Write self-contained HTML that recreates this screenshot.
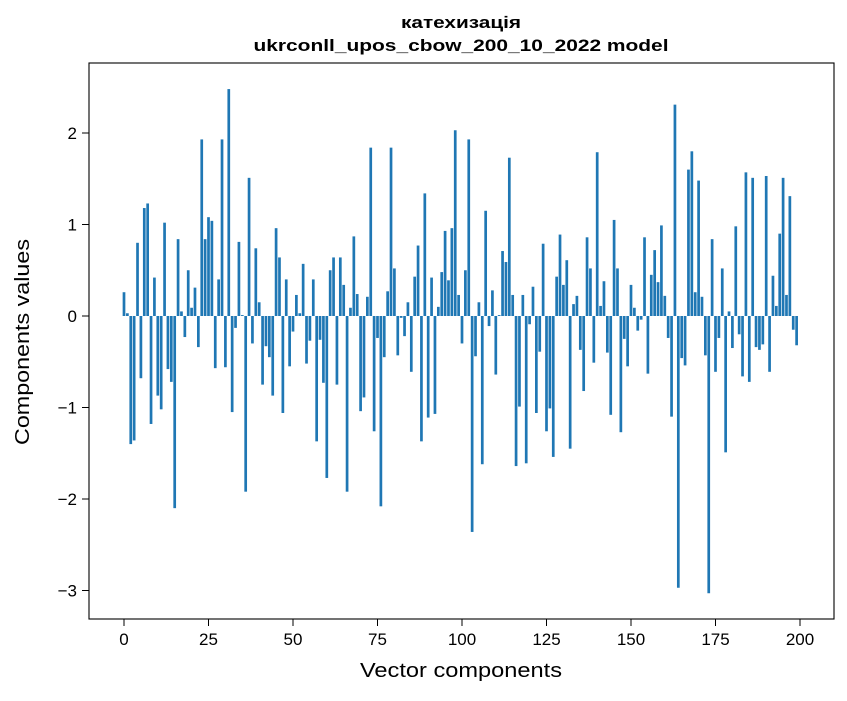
<!DOCTYPE html>
<html><head><meta charset="utf-8"><style>
body{margin:0;background:#fff}
text{font-family:"Liberation Sans","DejaVu Sans",sans-serif;fill:#000}
</style></head><body>
<svg id="chart" width="847" height="696" xmlns="http://www.w3.org/2000/svg">
<rect width="847" height="696" fill="#fff"/>
<text x="461" y="28" text-anchor="middle" font-size="17" font-weight="bold" textLength="120" lengthAdjust="spacingAndGlyphs">катехизація</text>
<text x="461" y="51" text-anchor="middle" font-size="17" font-weight="bold" textLength="415" lengthAdjust="spacingAndGlyphs">ukrconll_upos_cbow_200_10_2022 model</text>
<g id="bars"></g>
<rect x="89" y="63" width="745" height="556" fill="none" stroke="#000" stroke-width="1.1"/>
<g id="xticks"></g>
<g id="yticks"></g>
<text x="461" y="677" text-anchor="middle" font-size="20" textLength="202" lengthAdjust="spacingAndGlyphs">Vector components</text>
<text transform="translate(29,342) rotate(-90)" text-anchor="middle" font-size="20" textLength="206" lengthAdjust="spacingAndGlyphs">Components values</text>
</svg>
<script>
const values = [0.26,0.03,-1.40,-1.36,0.80,-0.68,1.18,1.23,-1.18,0.42,-0.87,-1.02,1.02,-0.58,-0.72,-2.10,0.84,0.05,-0.23,0.50,
0.09,0.31,-0.34,1.93,0.84,1.08,1.04,-0.57,0.40,1.93,-0.56,2.48,-1.05,-0.13,0.81,0.01,-1.92,1.51,-0.30,0.74,
0.15,-0.75,-0.33,-0.45,-0.87,0.96,0.64,-1.06,0.40,-0.55,-0.17,0.23,0.03,0.57,-0.52,-0.27,0.40,-1.37,-0.26,-0.73,
-1.77,0.50,0.64,-0.75,0.64,0.34,-1.92,0.09,0.87,0.24,-1.04,-0.89,0.21,1.84,-1.26,-0.24,-2.08,-0.45,0.27,1.84,
0.52,-0.43,-0.02,-0.22,0.15,-0.61,0.43,0.77,-1.37,1.34,-1.11,0.42,-1.07,0.10,0.48,0.93,0.39,0.96,2.03,0.23,
-0.30,0.50,1.93,-2.36,-0.44,0.15,-1.62,1.15,-0.11,0.28,-0.64,0.01,0.71,0.59,1.73,0.23,-1.64,-0.99,0.23,-1.61,
-0.09,0.32,-1.06,-0.39,0.79,-1.26,-1.01,-1.54,0.43,0.89,0.34,0.61,-1.45,0.13,0.22,-0.37,-0.82,0.86,0.52,-0.51,
1.79,0.11,0.38,-0.40,-1.08,1.05,0.52,-1.27,-0.25,-0.55,0.34,0.09,-0.16,-0.04,0.86,-0.63,0.45,0.72,0.37,0.99,
0.22,-0.24,-1.10,2.31,-2.97,-0.46,-0.54,1.60,1.80,0.26,1.48,0.21,-0.43,-3.03,0.84,-0.61,-0.24,0.52,-1.49,0.05,
-0.35,0.98,-0.20,-0.66,1.57,-0.72,1.51,-0.34,-0.37,-0.31,1.53,-0.61,0.44,0.11,0.90,1.51,0.23,1.31,-0.15,-0.32];
const xTicks = [0,25,50,75,100,125,150,175,200];
const yTicks = [-3,-2,-1,0,1,2];
const NS="http://www.w3.org/2000/svg";
const x = v => 124 + v*3.38;
const y = v => 316 - v*91.5;
const bars=document.getElementById('bars');
values.forEach((v,i)=>{
  const r=document.createElementNS(NS,'rect');
  
  
  r.setAttribute('x',x(i-0.4));
  r.setAttribute('width',0.8*3.38);
  r.setAttribute('y',Math.min(y(v),y(0)));
  r.setAttribute('height',Math.abs(y(v)-y(0)));
  r.setAttribute('fill','#1f77b4');
  bars.appendChild(r);
});
const xg=document.getElementById('xticks');
xTicks.forEach(t=>{
  const l=document.createElementNS(NS,'line');
  
  
  l.setAttribute('x1',x(t));l.setAttribute('x2',x(t));l.setAttribute('y1',619);l.setAttribute('y2',626);
  l.setAttribute('stroke','#000');
  xg.appendChild(l);
  const s=document.createElementNS(NS,'text');
  
  
  s.setAttribute('x',x(t));s.setAttribute('y',645);s.setAttribute('text-anchor','middle');s.setAttribute('font-size','17');
  s.textContent=t;
  xg.appendChild(s);
});
const yg=document.getElementById('yticks');
yTicks.forEach(t=>{
  const l=document.createElementNS(NS,'line');
  
  
  l.setAttribute('x1',82);l.setAttribute('x2',89);l.setAttribute('y1',y(t));l.setAttribute('y2',y(t));
  l.setAttribute('stroke','#000');
  yg.appendChild(l);
  const s=document.createElementNS(NS,'text');
  
  
  s.setAttribute('x',77);s.setAttribute('y',y(t)+6);s.setAttribute('text-anchor','end');s.setAttribute('font-size','17');
  s.textContent=t<0?'\u2212'+Math.abs(t):t;
  yg.appendChild(s);
});
</script>
</body></html>
